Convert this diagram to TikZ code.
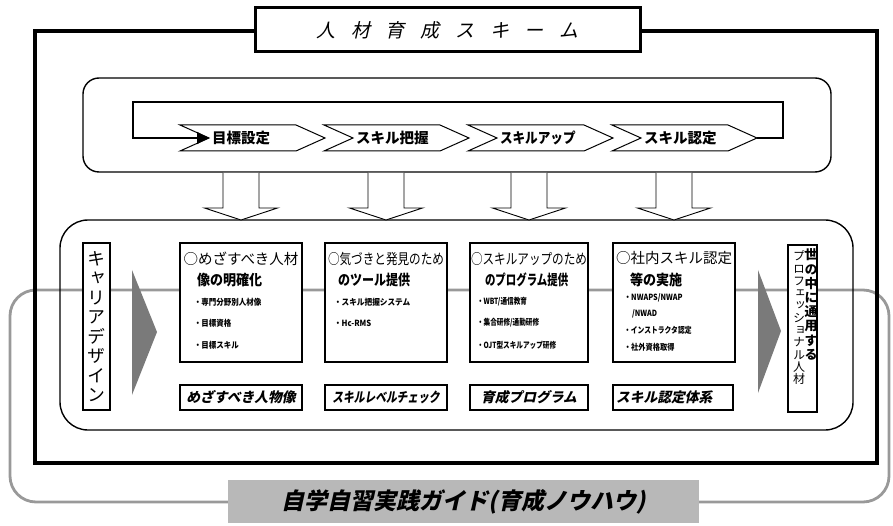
\documentclass[tikz,border=0pt]{standalone}
\usepackage{fontspec}
\usepackage{graphicx}
\usetikzlibrary{arrows.meta,calc}
\setmainfont{Noto Sans CJK JP}
\newfontfamily\jp{Noto Sans CJK JP}
\newfontfamily\jpi[FakeSlant=0.22]{Noto Sans CJK JP}
\newfontfamily\jpv[RawFeature=+vert]{Noto Sans CJK JP}
\newcommand\hsq[2]{\scalebox{#1}[1]{#2}}
\newcommand\fs[1]{\fontsize{#1pt}{#1pt}\selectfont}
\begin{document}
\begin{tikzpicture}[x=1pt,y=-1pt,
 every node/.style={inner sep=0pt,outer sep=0pt},
 loopline/.style={draw=black!40,line width=2.8pt},
 frame/.style={draw,line width=3.5pt,anchor=north west},
 titlebox/.style={draw,line width=3pt,fill=white,anchor=north west},
 rbox/.style={draw,line width=1.4pt,anchor=north west},
 cbox/.style={draw,line width=1.8pt,fill=white,anchor=north west},
 chev/.style={draw,line width=1pt,fill=white},
 barrow/.style={draw,line width=0.9pt,fill=white},
 flowl/.style={draw,line width=1.2pt},
 tri/.style={fill=black!52},
 guidebox/.style={fill=black!28,anchor=north west},
 head/.style={font=\jp\fs{14.5}},
 sub/.style={font=\jp\bfseries\fs{14.5},anchor=west},
 bul/.style={font=\jp\bfseries\fs{8.5},anchor=west},
 chevtxt/.style={font=\jp\bfseries\fs{14.5},anchor=west},
 labtxt/.style={font=\jpi\bfseries\fs{13.75}},
 vcol/.style={anchor=north,align=center},
]
\useasboundingbox (0,0) rectangle (893,526);

% self-study loop (behind everything)
\draw[loopline,rounded corners=26pt] (10,290) rectangle (889,502);

% outer frame and title
\node[frame,minimum width=842pt,minimum height=432pt] (outer) at (35,31) {};
\node[titlebox,minimum width=385pt,minimum height=44pt,font=\jpi\fs{19}] (title) at (255,8)
  {人\hspace{15.7pt}材\hspace{15.7pt}育\hspace{15.7pt}成\hspace{15.7pt}ス\hspace{15.7pt}キ\hspace{15.7pt}ー\hspace{15.7pt}ム};

% upper and lower rounded panels
\node[rbox,rounded corners=16pt,minimum width=748pt,minimum height=94pt] (upper) at (83,78) {};
\node[rbox,rounded corners=28pt,minimum width=793pt,minimum height=210pt] (lower) at (60,220) {};

% chevrons
\foreach \i/\t in {0/目標設定,1/スキル把握,2/\hsq{0.87}{スキルアップ},3/スキル認定} {
  \pgfmathsetmacro\L{180+144*\i}
  \draw[chev] (\L,125) -- ++(116,0) -- ++(29,13) -- ++(-29,13) -- ++(-116,0) -- ++(29,-13) -- cycle;
  \node[chevtxt] (cht\i) at (\L+32,138) {\t};
}
\coordinate (n1) at (209,138);
\coordinate (ch4tip) at (757,138);
\draw[flowl,-{Triangle[length=12pt,width=12pt]}] (ch4tip) -- (783,138) -- (783,102) -- (133,102) -- (133,138) -- (n1);

% content boxes
\node[cbox,minimum width=122pt,minimum height=119pt] (box1) at (180,243) {};
\node[cbox,minimum width=122pt,minimum height=119pt] (box2) at (325,243) {};
\node[cbox,minimum width=118pt,minimum height=119pt] (box3) at (470,243) {};
\node[cbox,minimum width=122pt,minimum height=119pt] (box4) at (613,243) {};

% label boxes
\node[cbox,minimum width=122pt,minimum height=25pt,labtxt] (lab1) at (180,385) {めざすべき人物像};
\node[cbox,minimum width=122pt,minimum height=25pt,labtxt] (lab2) at (325,385) {\hsq{0.78}{スキルレベルチェック}};
\node[cbox,minimum width=118pt,minimum height=25pt,labtxt] (lab3) at (470,385) {育成プログラム};
\node[cbox,minimum width=120pt,minimum height=25pt] (lab4) at (613,385) {};
\node[labtxt,anchor=west] (lab4t) at (616,397.5) {スキル認定体系};

% career / professional
\node[cbox,minimum width=27pt,minimum height=167pt,align=center,font=\jpv\fontsize{18pt}{19.5pt}\selectfont] (career) at (83,243)
  {キ\\ャ\\リ\\ア\\デ\\ザ\\イ\\ン};
\node[cbox,minimum width=29pt,minimum height=167pt] (prof) at (788,245) {};
\node[vcol,font=\jpv\fontsize{12pt}{12.3pt}\selectfont] (profl) at (799,251)
  {プ\\ロ\\フ\\ェ\\ッ\\シ\\ョ\\ナ\\ル\\人\\材};
\node[vcol,font=\jpv\bfseries\fontsize{13pt}{14.2pt}\selectfont] (profr) at (811,249)
  {世\\の\\中\\に\\通\\用\\す\\る};

% flow triangles
\fill[tri] (132,270) -- (157,332) -- (132,395) -- cycle;
\fill[tri] (758,270) -- (781,331) -- (758,393) -- cycle;

% down block arrows
\foreach \bx in {box1,box2,box3,box4} {
  \draw[barrow] ($(\bx.north |- upper.south)+(-18,1)$) -- ($(\bx.north |- lower.north)+(-18,-12)$) -- ++(-18.5,0)
     -- ($(\bx.north |- lower.north)$) -- ($(\bx.north |- lower.north)+(36.5,-12)$) -- ++(-18.5,0)
     -- ($(\bx.north |- upper.south)+(18,1)$);
}

% box texts
\node[head] (b1l1) at (241,259) {○めざすべき人材};
\node[sub] (b1l2) at (197,280) {\hsq{0.9}{像の明確化}};
\node[bul] (b1a) at (194,302) {\hsq{0.88}{・専門分野別人材像}};
\node[bul] (b1b) at (194,323) {\hsq{0.88}{・目標資格}};
\node[bul] (b1c) at (194,345) {\hsq{0.88}{・目標スキル}};

\node[head] (b2l1) at (386,259) {\hsq{0.8}{○気づきと発見のため}};
\node[sub] (b2l2) at (338,280) {\hsq{0.83}{のツール提供}};
\node[bul] (b2a) at (334,302) {\hsq{0.9}{・スキル把握システム}};
\node[bul] (b2b) at (334,323) {\hsq{0.9}{・Hc-RMS}};

\node[head] (b3l1) at (529,259) {\hsq{0.8}{○スキルアップのため}};
\node[sub] (b3l2) at (485,280) {\hsq{0.72}{のプログラム提供}};
\node[bul] (b3a) at (477,302) {\hsq{0.78}{・WBT/通信教育}};
\node[bul] (b3b) at (477,323) {\hsq{0.78}{・集合研修/通勤研修}};
\node[bul] (b3c) at (477,345) {\hsq{0.78}{・OJT型スキルアップ研修}};

\node[head] (b4l1) at (674,258) {○社内スキル認定};
\node[sub] (b4l2) at (630,280) {\hsq{0.9}{等の実施}};
\node[bul] (b4a) at (624,298) {\hsq{0.85}{・NWAPS/NWAP}};
\node[bul] (b4b) at (632,314) {\hsq{0.85}{/NWAD}};
\node[bul] (b4c) at (624,330) {\hsq{0.8}{・インストラクタ認定}};
\node[bul] (b4d) at (624,347) {\hsq{0.85}{・社外資格取得}};

% self-study guide label
\node[guidebox,minimum width=471pt,minimum height=43pt,font=\jpi\bfseries\fs{23}] (guide) at (228,480)
  {自学自習実践ガイド(育成ノウハウ)};
\end{tikzpicture}
\end{document}
